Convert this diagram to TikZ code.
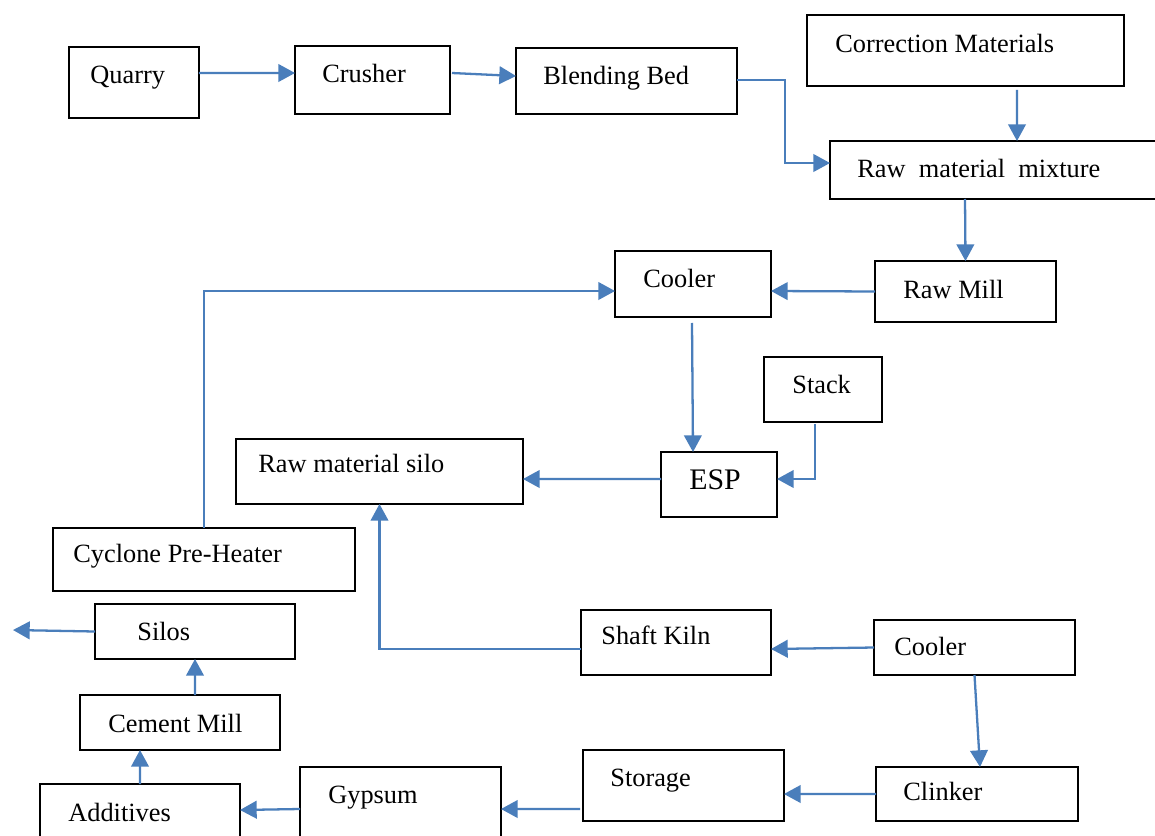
\documentclass[tikz,border=0pt]{standalone}
\usepackage{fontspec}
\setmainfont{Liberation Serif}
\usetikzlibrary{arrows.meta}
\usetikzlibrary{positioning}
\definecolor{flowblue}{RGB}{74,126,187}
\tikzset{
  blk/.style={rectangle,draw=black,line width=0.9pt,inner sep=0pt,outer sep=0pt},
  txt/.style={font=\fontsize{15}{18}\selectfont,anchor=base west,inner sep=0pt},
  flow/.style={draw=flowblue,line width=1.3pt,-{Triangle[length=9.5pt,width=10pt]}}
}

\begin{document}
\begin{tikzpicture}[x=0.02cm,y=-0.02cm]
\clip (0,0) rectangle (1155,835);
\fill[white] (0,0) rectangle (1155,835);
% boxes
\node[blk,minimum width=2.6cm,minimum height=1.42cm] (quarry) at (134,82.5) {};
\node[blk,minimum width=3.1cm,minimum height=1.36cm] (crusher) at (372.5,80) {};
\node[blk,minimum width=4.42cm,minimum height=1.32cm] (blend) at (626.5,81) {};
\node[blk,minimum width=6.34cm,minimum height=1.42cm] (corr) at (965.5,50.5) {};
\node[blk,minimum width=6.9cm,minimum height=1.16cm] (mix) at (1002.5,170) {};
\node[blk,minimum width=3.62cm,minimum height=1.22cm] (rawmill) at (965.5,291.5) {};
\node[blk,minimum width=3.12cm,minimum height=1.32cm] (coolerA) at (693,284) {};
\node[blk,minimum width=2.36cm,minimum height=1.3cm] (stack) at (823,389.5) {};
\node[blk,minimum width=2.32cm,minimum height=1.3cm] (esp) at (719,484.5) {};
\node[blk,minimum width=5.74cm,minimum height=1.3cm] (silo) at (379.5,471.5) {};
\node[blk,minimum width=6.04cm,minimum height=1.26cm] (cyclone) at (204,559.5) {};
\node[blk,minimum width=4cm,minimum height=1.1cm] (silos) at (195,631.5) {};
\node[blk,minimum width=4cm,minimum height=1.1cm] (cmill) at (180,722.5) {};
\node[blk,minimum width=4cm,minimum height=1.32cm] (additives) at (140,817) {};
\node[blk,minimum width=4.02cm,minimum height=1.56cm] (gypsum) at (400.5,806) {};
\node[blk,minimum width=3.8cm,minimum height=1.3cm] (shaft) at (676,642.5) {};
\node[blk,minimum width=4.02cm,minimum height=1.1cm] (coolerB) at (974.5,647.5) {};
\node[blk,minimum width=4.02cm,minimum height=1.42cm] (storage) at (683.5,785.5) {};
\node[blk,minimum width=4.04cm,minimum height=1.08cm] (clinker) at (977,794) {};

% texts
\node[txt] (quarryT) at (90,83) {Quarry};
\node[txt] (crusherT) at (322,82) {Crusher};
\node[txt] (blendT) at (543,84) {Blending Bed};
\node[txt] (corrT) at (835,52) {Correction Materials};
\node[txt] (mixT) at (857,177) {Raw\ \ material\ \ mixture};
\node[txt] (rawmillT) at (903,298) {Raw Mill};
\node[txt] (coolerAT) at (643,287) {Cooler};
\node[txt] (stackT) at (792,393) {Stack};
\node[txt,font=\fontsize{17}{20}\selectfont] (espT) at (689,489) {ESP};
\node[txt] (siloT) at (258,472) {Raw material silo};
\node[txt] (cycloneT) at (73,562) {Cyclone Pre-Heater};
\node[txt] (silosT) at (137,640) {Silos};
\node[txt] (cmillT) at (108,732) {Cement Mill};
\node[txt] (additivesT) at (68,821) {Additives};
\node[txt] (gypsumT) at (328,803) {Gypsum};
\node[txt] (shaftT) at (601,644) {Shaft Kiln};
\node[txt] (coolerBT) at (894,655) {Cooler};
\node[txt] (storageT) at (610,786) {Storage};
\node[txt] (clinkerT) at (903,800) {Clinker};

% flows
\coordinate (out) at (13,630);
\draw[flow] ([yshift=0.19cm]quarry.east) -- ([yshift=0.14cm]crusher.west);
\draw[flow] ([xshift=0.04cm,yshift=0.14cm]crusher.east) -- ([yshift=0.1cm]blend.west);
\draw[flow] ([yshift=0.02cm]blend.east) -- ++(0.96cm,0) |- ([yshift=0.14cm]mix.west);
\draw[flow] ([xshift=1.03cm,yshift=-0.08cm]corr.south) -- ([xshift=0.29cm]mix.north);
\draw[flow] ([xshift=-0.75cm]mix.south) -- (rawmill.north);
\draw[flow] (rawmill.west) -- ([yshift=-0.14cm]coolerA.east);
\draw[flow] ([xshift=-0.02cm,yshift=-0.12cm]coolerA.south) -- ([xshift=-0.52cm]esp.north);
\draw[flow] ([xshift=-0.16cm,yshift=-0.04cm]stack.south) |- ([yshift=0.11cm]esp.east);
\draw[flow] ([yshift=0.11cm]esp.west) -- ([yshift=-0.15cm]silo.east);
\draw[flow] (cyclone.north) |- ([yshift=-0.14cm]coolerA.west);
\draw[flow] (coolerB.west) -- ([yshift=-0.13cm]shaft.east);
\draw[flow] ([yshift=-0.13cm]shaft.west) -| (silo.south);
\draw[flow] (coolerB.south) -- ([xshift=0.06cm]clinker.north);
\draw[flow] (clinker.west) -- ([yshift=-0.17cm]storage.east);
\draw[flow] ([xshift=-0.06cm,yshift=-0.47cm]storage.west) -- ([yshift=-0.06cm]gypsum.east);
\draw[flow] ([yshift=-0.06cm]gypsum.west) -- ([yshift=0.14cm]additives.east);
\draw[flow] (additives.north) -- ([xshift=-0.8cm]cmill.south);
\draw[flow] ([xshift=0.3cm]cmill.north) -- (silos.south);
\draw[flow] (silos.west) -- (out);
\end{tikzpicture}
\end{document}
